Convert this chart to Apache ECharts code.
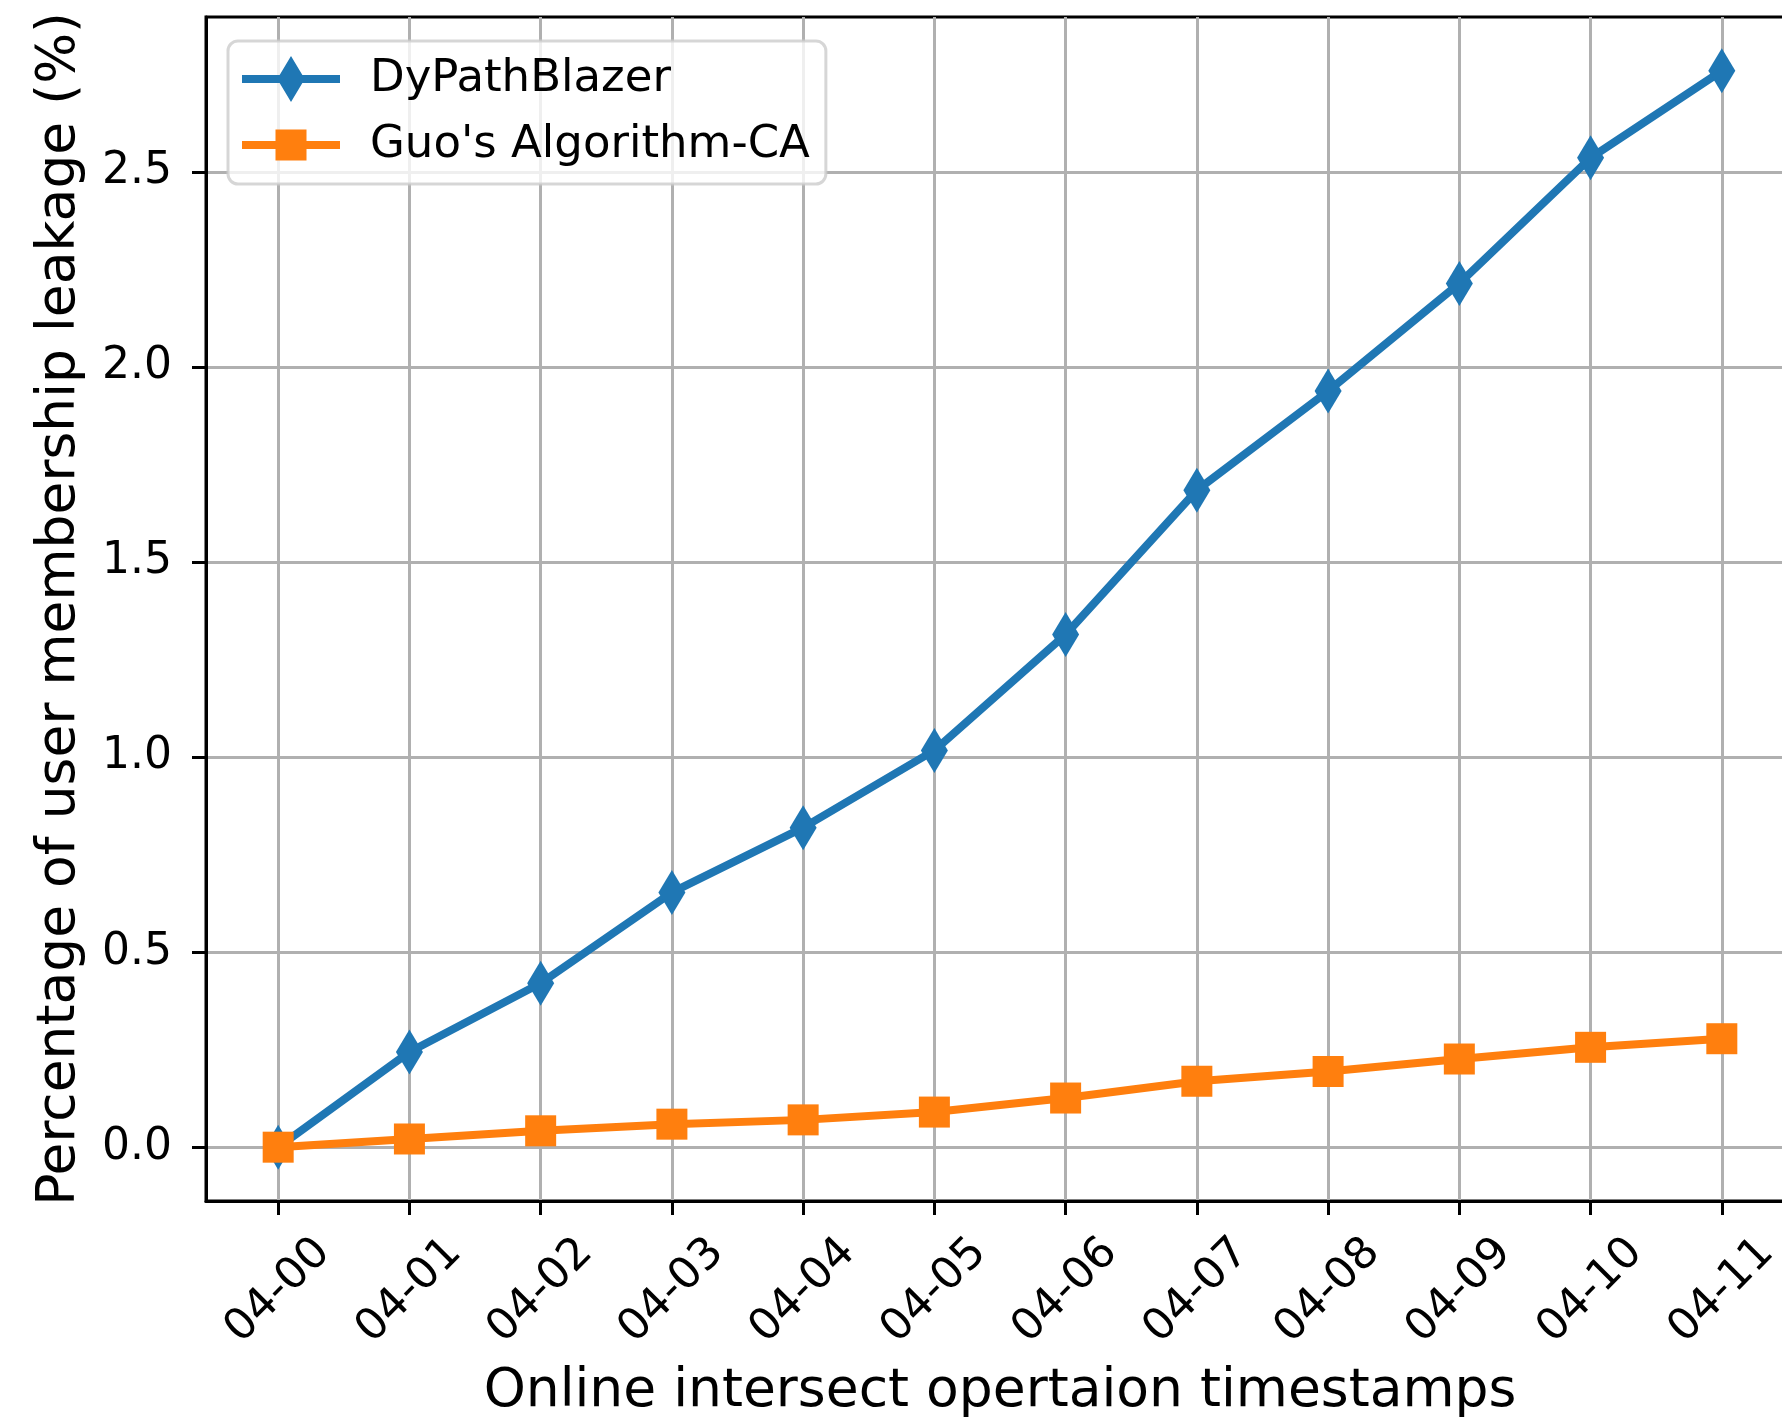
<!DOCTYPE html>
<html>
<head>
<meta charset="utf-8">
<title>User membership leakage over online intersect operations</title>
<script src="https://cdn.jsdelivr.net/npm/echarts@6/dist/echarts.min.js"></script>
<style>
  html, body { margin: 0; padding: 0; background: #ffffff; }
  #chart { width: 1782px; height: 1424px; }
</style>
</head>
<body>
<div id="chart"></div>
<script>
// Timestamps of the online intersect operations (x axis ticks)
const timestamps = ['04-00', '04-01', '04-02', '04-03', '04-04', '04-05',
                    '04-06', '04-07', '04-08', '04-09', '04-10', '04-11'];

// Percentage of user membership leakage (%)
const dyPathBlazer = [0.0, 0.244, 0.42, 0.653, 0.819, 1.017,
                      1.314, 1.684, 1.938, 2.214, 2.536, 2.759];
const guoAlgorithmCA = [0.0, 0.021, 0.042, 0.059, 0.070, 0.090,
                        0.126, 0.169, 0.194, 0.226, 0.256, 0.278];

// y axis tick values
const yTicks = [0.0, 0.5, 1.0, 1.5, 2.0, 2.5];

const seriesNames = ['DyPathBlazer', "Guo's Algorithm-CA"];

const FONT = 'DejaVu Sans';
const GRID_COLOR = '#b0b0b0';

// 5% padding around the data range on both axes
const allValues = dyPathBlazer.concat(guoAlgorithmCA);
const dataMin = Math.min.apply(null, allValues);
const dataMax = Math.max.apply(null, allValues);
const yPad = (dataMax - dataMin) * 0.05;
const xIdx = timestamps.map((_, i) => i);
const xPad = (timestamps.length - 1) * 0.05;

function pairs(values) {
  return values.map((v, i) => [i, v]);
}

// Legend icons: line segment with the series marker on top
const diamondIcon = 'path://M0,19H98V27H0Z M49,0L62.75,23L49,46L35.25,23Z';
const squareIcon = 'path://M0,0L0.01,0L0.01,0.01Z M0,19H98V27H0Z M33.5,7.5H64.5V38.5H33.5Z M97.99,45.99L98,45.99L98,46Z';

const chart = echarts.init(document.getElementById('chart'), null, { renderer: 'canvas' });

chart.setOption({
  animation: false,
  backgroundColor: '#ffffff',
  textStyle: { fontFamily: FONT, color: '#000' },
  grid: {
    left: 206,
    top: 17,
    right: -12,
    bottom: 223,
    show: true,
    borderColor: '#000',
    borderWidth: 3,
    backgroundColor: 'transparent',
    containLabel: false,
    outerBoundsMode: 'none'
  },
  legend: {
    orient: 'vertical',
    left: 228,
    top: 41,
    padding: [15, 16, 16, 14],
    itemWidth: 98,
    itemHeight: 46,
    itemGap: 20,
    backgroundColor: 'rgba(255,255,255,0.8)',
    borderColor: 'rgba(204,204,204,0.8)',
    borderWidth: 3,
    borderRadius: 10,
    selectedMode: false,
    textStyle: {
      fontFamily: FONT,
      fontSize: 45,
      lineHeight: 46,
      color: '#000',
      padding: [0, 0, 0, 25]
    },
    data: [
      { name: seriesNames[0], icon: diamondIcon },
      { name: seriesNames[1], icon: squareIcon }
    ]
  },
  xAxis: {
    type: 'value',
    min: xIdx[0] - xPad,
    max: xIdx[xIdx.length - 1] + xPad,
    name: 'Online intersect opertaion timestamps',
    nameLocation: 'middle',
    nameGap: 191,
    nameTextStyle: { fontFamily: FONT, fontSize: 53.5, color: '#000', verticalAlign: 'middle' },
    axisLine: { show: true, onZero: false, lineStyle: { color: '#000', width: 3 } },
    axisTick: {
      show: true, inside: false, length: 14,
      lineStyle: { color: '#000', width: 3 },
      customValues: xIdx
    },
    axisLabel: {
      show: true,
      customValues: xIdx,
      rotate: 45,
      align: 'center',
      verticalAlign: 'middle',
      margin: 90,
      fontFamily: FONT,
      fontSize: 44,
      color: '#000',
      formatter: (v) => timestamps[Math.round(v)]
    },
    splitLine: { show: true, lineStyle: { color: GRID_COLOR, width: 3 } }
  },
  yAxis: {
    type: 'value',
    min: dataMin - yPad,
    max: dataMax + yPad,
    name: 'Percentage of user membership leakage (%)',
    nameLocation: 'middle',
    nameGap: 146,
    nameTextStyle: { fontFamily: FONT, fontSize: 53.5, color: '#000', verticalAlign: 'middle' },
    axisLine: { show: true, onZero: false, lineStyle: { color: '#000', width: 3 } },
    axisTick: {
      show: true, inside: false, length: 14,
      lineStyle: { color: '#000', width: 3 },
      customValues: yTicks
    },
    axisLabel: {
      show: true,
      customValues: yTicks,
      margin: 34,
      fontFamily: FONT,
      fontSize: 44,
      color: '#000',
      formatter: (v) => v.toFixed(1)
    },
    splitLine: { show: true, lineStyle: { color: GRID_COLOR, width: 3 } }
  },
  series: [
    {
      name: seriesNames[0],
      type: 'line',
      data: pairs(dyPathBlazer),
      symbol: 'diamond',
      symbolSize: [27, 45],
      showAllSymbol: true,
      lineStyle: { color: '#1f77b4', width: 8 },
      itemStyle: { color: '#1f77b4' },
      z: 3
    },
    {
      name: seriesNames[1],
      type: 'line',
      data: pairs(guoAlgorithmCA),
      symbol: 'rect',
      symbolSize: 31,
      showAllSymbol: true,
      lineStyle: { color: '#ff7f0e', width: 8 },
      itemStyle: { color: '#ff7f0e' },
      z: 4
    }
  ]
});
</script>
</body>
</html>
